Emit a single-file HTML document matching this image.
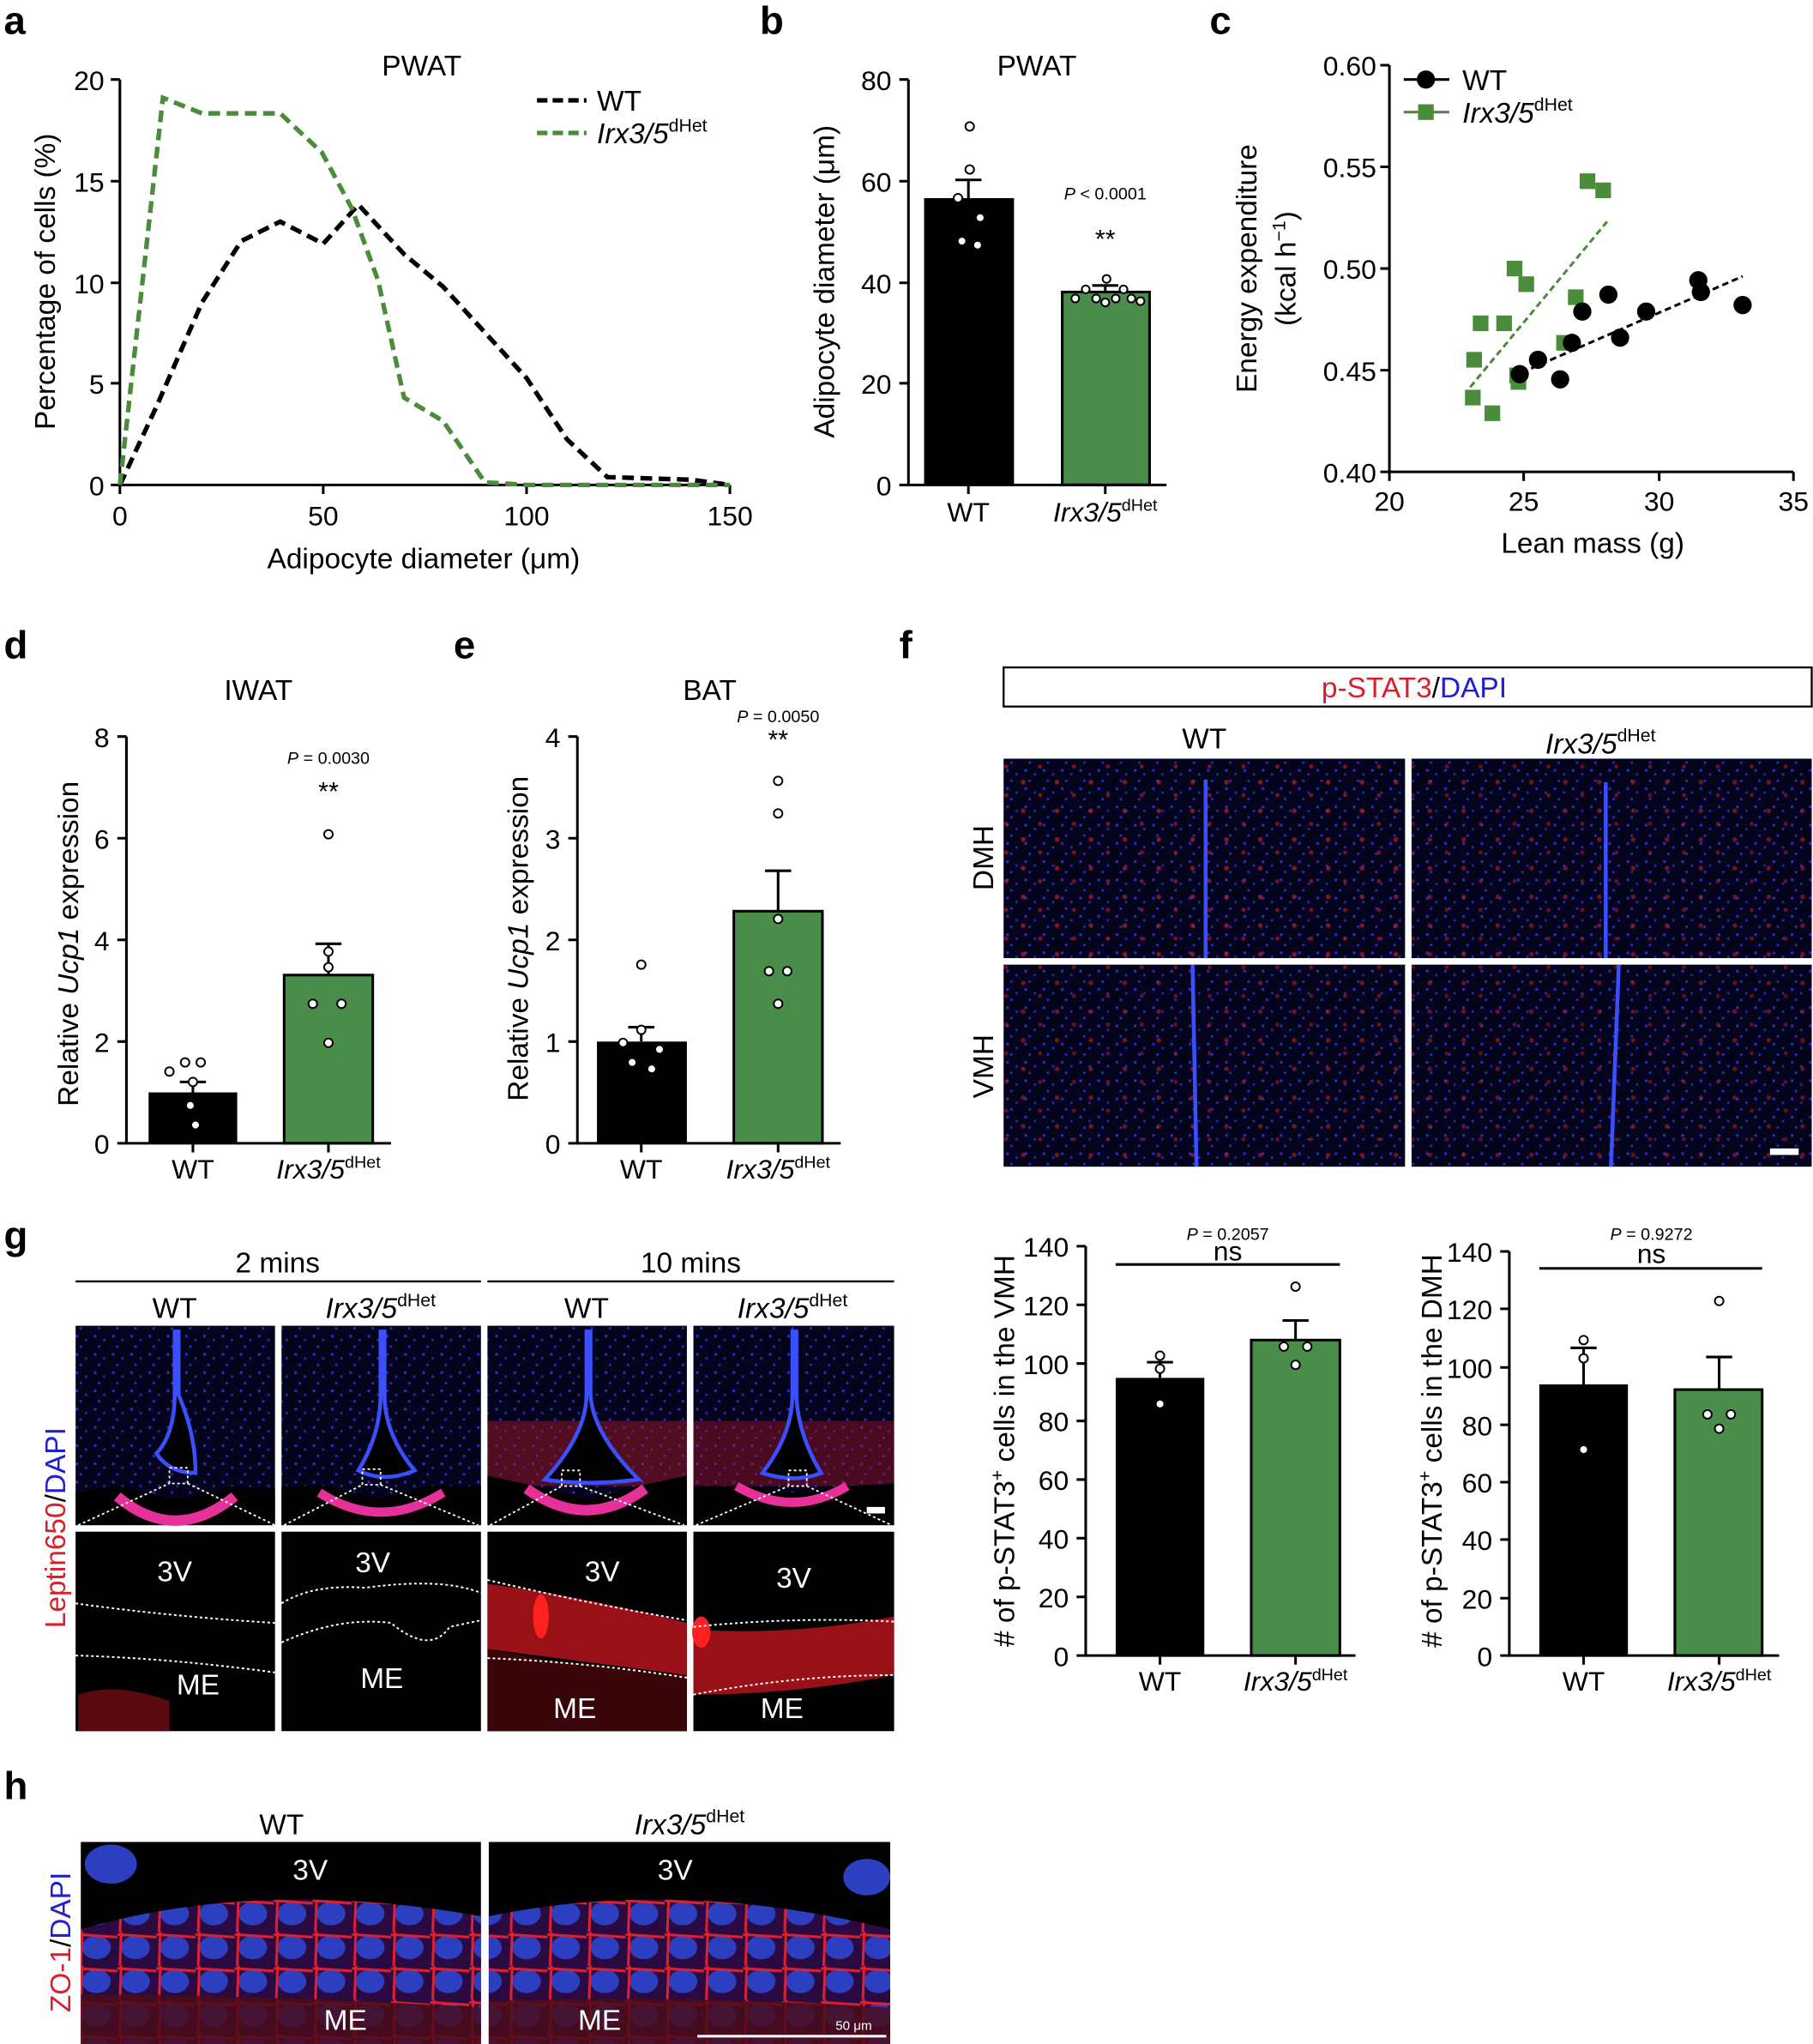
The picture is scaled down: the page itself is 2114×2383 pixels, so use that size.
<!DOCTYPE html>
<html><head><meta charset="utf-8"><style>
html,body{margin:0;padding:0;background:#fff}
svg{display:block}
text{font-family:"Liberation Sans",sans-serif;fill:#000}
.t{font-size:21px}
.lab{font-size:22px}
.L{font-size:30px;font-weight:bold}
</style></head><body>
<svg width="2114" height="2383" viewBox="0 0 1391 1568" xmlns="http://www.w3.org/2000/svg">
<defs>
<pattern id="mic" width="14" height="14" patternUnits="userSpaceOnUse">
<rect width="14" height="14" fill="#04041c"/>
<circle cx="3" cy="3" r="1.1" fill="#2a2ccc"/><circle cx="10" cy="6" r="1" fill="#2328b0"/>
<circle cx="6" cy="11" r="1" fill="#2a2ccc"/>
</pattern>
<pattern id="red" width="26" height="22" patternUnits="userSpaceOnUse">
<circle cx="5" cy="6" r="1.8" fill="#e0202e"/><circle cx="18" cy="16" r="1.6" fill="#d01828"/>
</pattern>
<pattern id="zo" width="30" height="26" patternUnits="userSpaceOnUse">
<rect width="30" height="26" fill="#2a0a40"/>
<ellipse cx="14" cy="12" rx="11" ry="9" fill="#2b3fc0"/>
<path d="M0 2 L30 4 M3 0 L2 26" stroke="#e02030" stroke-width="2"/>
</pattern>
</defs>
<rect width="1391" height="1568" fill="#fff"/>

<!-- ===== a ===== -->
<text class="L" x="3" y="26">a</text>
<text class="lab" x="293" y="58">PWAT</text>
<g stroke="#000" stroke-width="2" fill="none">
<path d="M92 61 V372 H560"/>
<path d="M85 61H92M85 139H92M85 217H92M85 294H92M85 372H92"/>
<path d="M92 372v7M248 372v7M404 372v7M560 372v7"/>
</g>
<g class="t" text-anchor="end"><text x="80" y="69">20</text><text x="80" y="147">15</text><text x="80" y="225">10</text><text x="80" y="302">5</text><text x="80" y="380">0</text></g>
<g class="t" text-anchor="middle"><text x="92" y="403">0</text><text x="248" y="403">50</text><text x="404" y="403">100</text><text x="560" y="403">150</text></g>
<text class="lab" x="325" y="436" text-anchor="middle">Adipocyte diameter (μm)</text>
<text class="lab" transform="translate(42,216) rotate(-90)" text-anchor="middle">Percentage of cells (%)</text>
<polyline fill="none" stroke="#000" stroke-width="3.5" stroke-dasharray="9,5" points="92,372 120,312 155,232 185,185 215,170 248,187 275,157 310,195 340,220 372,255 404,290 435,337 466,366 530,368 560,372"/>
<polyline fill="none" stroke="#4a8c3c" stroke-width="3.5" stroke-dasharray="9,5" points="92,372 125,75 155,87 215,87 247,117 270,160 290,215 310,305 340,323 372,370 404,372 560,372"/>
<line x1="412" y1="77" x2="450" y2="77" stroke="#000" stroke-width="3.5" stroke-dasharray="8,4"/>
<line x1="412" y1="102" x2="450" y2="102" stroke="#4a8c3c" stroke-width="3.5" stroke-dasharray="8,4"/>
<text class="lab" x="458" y="85">WT</text>
<text class="lab" x="458" y="110"><tspan font-style="italic">Irx3/5</tspan><tspan font-size="14" dy="-9">dHet</tspan></text>

<!-- ===== b ===== -->
<text class="L" x="583" y="26">b</text>
<text class="lab" x="765" y="58">PWAT</text>
<rect x="709" y="152" width="69" height="220" fill="#000"/>
<rect x="815" y="224" width="67" height="148" fill="#4a8c4a" stroke="#000" stroke-width="2"/>
<g stroke="#000" stroke-width="2" fill="none">
<path d="M743 152V138M733 138H753M848 224V219M838 219H858"/>
<path d="M697 61V372H895"/>
<path d="M690 61H697M690 139H697M690 217H697M690 294H697M690 372H697M743 372v7M848 372v7"/>
</g>
<g fill="#fff" stroke="#000" stroke-width="1.3">
<circle cx="744" cy="97" r="3.3"/><circle cx="744" cy="130" r="3.3"/><circle cx="735" cy="152" r="3.3"/><circle cx="752" cy="167" r="3.3"/><circle cx="738" cy="185" r="3.3"/><circle cx="750" cy="188" r="3.3"/>
<circle cx="825" cy="229" r="3"/><circle cx="833" cy="222" r="3"/><circle cx="841" cy="229" r="3"/><circle cx="849" cy="214" r="3"/><circle cx="856" cy="229" r="3"/><circle cx="862" cy="222" r="3"/><circle cx="868" cy="229" r="3"/><circle cx="875" cy="231" r="3"/><circle cx="848" cy="232" r="3"/>
</g>
<g class="t" text-anchor="end"><text x="684" y="69">80</text><text x="684" y="147">60</text><text x="684" y="225">40</text><text x="684" y="302">20</text><text x="684" y="380">0</text></g>
<text class="t" x="743" y="400" text-anchor="middle">WT</text>
<text class="t" x="848" y="400" text-anchor="middle"><tspan font-style="italic">Irx3/5</tspan><tspan font-size="13" dy="-8">dHet</tspan></text>
<text x="848" y="153" font-size="13" text-anchor="middle"><tspan font-style="italic">P</tspan> &lt; 0.0001</text>
<text x="848" y="190" font-size="20" text-anchor="middle">**</text>
<text class="lab" transform="translate(640,216) rotate(-90)" text-anchor="middle">Adipocyte diameter (μm)</text>

<!-- ===== c ===== -->
<text class="L" x="928" y="26">c</text>
<g stroke="#000" stroke-width="2" fill="none">
<path d="M1066 50V362H1376"/>
<path d="M1059 50H1066M1059 128H1066M1059 206H1066M1059 284H1066M1059 362H1066"/>
<path d="M1066 362v7M1169 362v7M1273 362v7M1376 362v7"/>
</g>
<g class="t" text-anchor="end"><text x="1056" y="58">0.60</text><text x="1056" y="136">0.55</text><text x="1056" y="214">0.50</text><text x="1056" y="292">0.45</text><text x="1056" y="370">0.40</text></g>
<g class="t" text-anchor="middle"><text x="1066" y="392">20</text><text x="1169" y="392">25</text><text x="1273" y="392">30</text><text x="1376" y="392">35</text></g>
<text class="lab" x="1222" y="424" text-anchor="middle">Lean mass (g)</text>
<text class="lab" transform="translate(964,206) rotate(-90)" text-anchor="middle">Energy expenditure</text>
<text class="lab" transform="translate(994,206) rotate(-90)" text-anchor="middle">(kcal h<tspan font-size="14" dy="-8">−1</tspan><tspan dy="8">)</tspan></text>
<line x1="1128" y1="297" x2="1233" y2="170" stroke="#4a8c3c" stroke-width="2" stroke-dasharray="5,3"/>
<line x1="1160" y1="289" x2="1337" y2="212" stroke="#000" stroke-width="2" stroke-dasharray="5,3"/>
<g fill="#4a8c3c">
<rect x="1124" y="299" width="12" height="12"/><rect x="1139" y="311" width="12" height="12"/><rect x="1125" y="270" width="12" height="12"/><rect x="1130" y="242" width="12" height="12"/><rect x="1148" y="242" width="12" height="12"/><rect x="1156" y="200" width="12" height="12"/><rect x="1165" y="212" width="12" height="12"/><rect x="1158" y="282" width="12" height="12"/><rect x="1159" y="287" width="12" height="12"/><rect x="1203" y="222" width="12" height="12"/><rect x="1212" y="133" width="12" height="12"/><rect x="1224" y="140" width="12" height="12"/><rect x="1194" y="257" width="12" height="12"/>
</g>
<g fill="#000">
<circle cx="1166" cy="287" r="7"/><circle cx="1180" cy="276" r="7"/><circle cx="1197" cy="291" r="7"/><circle cx="1206" cy="263" r="7"/><circle cx="1214" cy="239" r="7"/><circle cx="1234" cy="226" r="7"/><circle cx="1243" cy="259" r="7"/><circle cx="1263" cy="239" r="7"/><circle cx="1303" cy="215" r="7"/><circle cx="1305" cy="224" r="7"/><circle cx="1337" cy="234" r="7"/>
</g>
<line x1="1077" y1="61" x2="1112" y2="61" stroke="#000" stroke-width="2"/><circle cx="1094" cy="61" r="7"/>
<line x1="1077" y1="86" x2="1112" y2="86" stroke="#4a8c3c" stroke-width="2"/><rect x="1088" y="80" width="12" height="12" fill="#4a8c3c"/>
<text class="lab" x="1122" y="69">WT</text>
<text class="lab" x="1122" y="94"><tspan font-style="italic">Irx3/5</tspan><tspan font-size="14" dy="-9">dHet</tspan></text>

<!-- ===== d ===== -->
<text class="L" x="3" y="505">d</text>
<text class="lab" x="172" y="537">IWAT</text>
<rect x="114" y="838" width="68" height="39" fill="#000"/>
<rect x="218" y="748" width="68" height="129" fill="#4a8c4a" stroke="#000" stroke-width="2"/>
<g stroke="#000" stroke-width="2" fill="none">
<path d="M148 838V830M138 830H158M252 748V724M242 724H262"/>
<path d="M97 565V877H300"/>
<path d="M90 565H97M90 643H97M90 721H97M90 799H97M90 877H97M148 877v7M252 877v7"/>
</g>
<g fill="#fff" stroke="#000" stroke-width="1.3">
<circle cx="142" cy="815" r="3.3"/><circle cx="154" cy="815" r="3.3"/><circle cx="130" cy="822" r="3.3"/><circle cx="148" cy="830" r="3.3"/><circle cx="146" cy="848" r="3.3"/><circle cx="150" cy="863" r="3.3"/>
<circle cx="252" cy="640" r="3.3"/><circle cx="252" cy="730" r="3.3"/><circle cx="252" cy="742" r="3.3"/><circle cx="240" cy="770" r="3.3"/><circle cx="262" cy="770" r="3.3"/><circle cx="252" cy="800" r="3.3"/>
</g>
<g class="t" text-anchor="end"><text x="84" y="573">8</text><text x="84" y="651">6</text><text x="84" y="729">4</text><text x="84" y="807">2</text><text x="84" y="885">0</text></g>
<text class="t" x="148" y="904" text-anchor="middle">WT</text>
<text class="t" x="252" y="904" text-anchor="middle"><tspan font-style="italic">Irx3/5</tspan><tspan font-size="13" dy="-8">dHet</tspan></text>
<text x="252" y="586" font-size="13" text-anchor="middle"><tspan font-style="italic">P</tspan> = 0.0030</text>
<text x="252" y="614" font-size="20" text-anchor="middle">**</text>
<text class="lab" transform="translate(60,724) rotate(-90)" text-anchor="middle">Relative <tspan font-style="italic">Ucp1</tspan> expression</text>

<!-- ===== e ===== -->
<text class="L" x="348" y="505">e</text>
<text class="lab" x="524" y="537">BAT</text>
<rect x="458" y="799" width="69" height="78" fill="#000"/>
<rect x="563" y="699" width="68" height="178" fill="#4a8c4a" stroke="#000" stroke-width="2"/>
<g stroke="#000" stroke-width="2" fill="none">
<path d="M492 799V788M482 788H502M597 699V668M587 668H607"/>
<path d="M443 565V877H645"/>
<path d="M436 565H443M436 643H443M436 721H443M436 799H443M436 877H443M492 877v7M597 877v7"/>
</g>
<g fill="#fff" stroke="#000" stroke-width="1.3">
<circle cx="492" cy="740" r="3.3"/><circle cx="492" cy="790" r="3.3"/><circle cx="478" cy="800" r="3.3"/><circle cx="506" cy="805" r="3.3"/><circle cx="485" cy="815" r="3.3"/><circle cx="500" cy="820" r="3.3"/>
<circle cx="597" cy="599" r="3.3"/><circle cx="597" cy="624" r="3.3"/><circle cx="597" cy="705" r="3.3"/><circle cx="590" cy="745" r="3.3"/><circle cx="604" cy="745" r="3.3"/><circle cx="597" cy="770" r="3.3"/>
</g>
<g class="t" text-anchor="end"><text x="430" y="573">4</text><text x="430" y="651">3</text><text x="430" y="729">2</text><text x="430" y="807">1</text><text x="430" y="885">0</text></g>
<text class="t" x="492" y="904" text-anchor="middle">WT</text>
<text class="t" x="597" y="904" text-anchor="middle"><tspan font-style="italic">Irx3/5</tspan><tspan font-size="13" dy="-8">dHet</tspan></text>
<text x="597" y="554" font-size="13" text-anchor="middle"><tspan font-style="italic">P</tspan> = 0.0050</text>
<text x="597" y="574" font-size="20" text-anchor="middle">**</text>
<text class="lab" transform="translate(405,720) rotate(-90)" text-anchor="middle">Relative <tspan font-style="italic">Ucp1</tspan> expression</text>

<!-- ===== f ===== -->
<text class="L" x="690" y="505">f</text>
<rect x="770" y="512" width="620" height="30" fill="none" stroke="#000" stroke-width="1.5"/>
<text class="lab" x="1085" y="535" text-anchor="middle"><tspan style="fill:#d8202a">p-STAT3</tspan>/<tspan style="fill:#2020d0">DAPI</tspan></text>
<text class="lab" x="924" y="574" text-anchor="middle">WT</text>
<text class="lab" x="1228" y="578" text-anchor="middle"><tspan font-style="italic">Irx3/5</tspan><tspan font-size="14" dy="-9">dHet</tspan></text>
<text class="lab" transform="translate(762,658) rotate(-90)" text-anchor="middle">DMH</text>
<text class="lab" transform="translate(762,818) rotate(-90)" text-anchor="middle">VMH</text>
<g>
<rect x="770" y="582" width="308" height="153" fill="url(#mic)"/><rect x="770" y="582" width="308" height="153" fill="url(#red)" opacity=".6"/>
<rect x="1083" y="582" width="307" height="153" fill="url(#mic)"/><rect x="1083" y="582" width="307" height="153" fill="url(#red)" opacity=".5"/>
<rect x="770" y="740" width="308" height="155" fill="url(#mic)"/><rect x="770" y="740" width="308" height="155" fill="url(#red)" opacity=".5"/>
<rect x="1083" y="740" width="307" height="155" fill="url(#mic)"/><rect x="1083" y="740" width="307" height="155" fill="url(#red)" opacity=".45"/>
<path d="M925 598V735M1232 600V735M915 740L918 895M1242 740L1236 895" stroke="#3a50ff" stroke-width="3"/>
<rect x="1358" y="881" width="22" height="5" fill="#fff"/>
</g>

<!-- f bars VMH -->
<rect x="856" y="1057" width="68" height="213" fill="#000"/>
<rect x="960" y="1028" width="68" height="242" fill="#4a8c4a" stroke="#000" stroke-width="2"/>
<g stroke="#000" stroke-width="2" fill="none">
<path d="M890 1057V1045M880 1045H900M994 1028V1013M984 1013H1004"/>
<path d="M833 956V1270H1040"/>
<path d="M826 956H833M826 1001H833M826 1046H833M826 1090H833M826 1135H833M826 1180H833M826 1225H833M826 1270H833M890 1270v7M994 1270v7"/>
<path d="M856 970H1028"/>
</g>
<g fill="#fff" stroke="#000" stroke-width="1.3"><circle cx="890" cy="1040" r="3.3"/><circle cx="890" cy="1050" r="3.3"/><circle cx="890" cy="1077" r="3.3"/><circle cx="994" cy="987" r="3.3"/><circle cx="985" cy="1033" r="3.3"/><circle cx="1003" cy="1033" r="3.3"/><circle cx="994" cy="1047" r="3.3"/></g>
<g class="t" text-anchor="end"><text x="820" y="964">140</text><text x="820" y="1009">120</text><text x="820" y="1054">100</text><text x="820" y="1098">80</text><text x="820" y="1143">60</text><text x="820" y="1188">40</text><text x="820" y="1233">20</text><text x="820" y="1278">0</text></g>
<text x="942" y="951" font-size="13" text-anchor="middle"><tspan font-style="italic">P</tspan> = 0.2057</text>
<text class="t" x="942" y="967" text-anchor="middle">ns</text>
<text class="t" x="890" y="1297" text-anchor="middle">WT</text>
<text class="t" x="994" y="1297" text-anchor="middle"><tspan font-style="italic">Irx3/5</tspan><tspan font-size="13" dy="-8">dHet</tspan></text>
<text class="lab" transform="translate(778,1113) rotate(-90)" text-anchor="middle"># of p-STAT3<tspan font-size="14" dy="-8">+</tspan><tspan dy="8"> cells in the VMH</tspan></text>

<!-- f bars DMH -->
<rect x="1181" y="1062" width="68" height="208" fill="#000"/>
<rect x="1285" y="1066" width="67" height="204" fill="#4a8c4a" stroke="#000" stroke-width="2"/>
<g stroke="#000" stroke-width="2" fill="none">
<path d="M1215 1062V1034M1205 1034H1225M1319 1066V1041M1309 1041H1329"/>
<path d="M1158 960V1270H1365"/>
<path d="M1151 960H1158M1151 1004H1158M1151 1049H1158M1151 1093H1158M1151 1137H1158M1151 1181H1158M1151 1226H1158M1151 1270H1158M1215 1270v7M1319 1270v7"/>
<path d="M1181 973H1352"/>
</g>
<g fill="#fff" stroke="#000" stroke-width="1.3"><circle cx="1215" cy="1028" r="3.3"/><circle cx="1215" cy="1042" r="3.3"/><circle cx="1215" cy="1112" r="3.3"/><circle cx="1319" cy="998" r="3.3"/><circle cx="1310" cy="1085" r="3.3"/><circle cx="1328" cy="1085" r="3.3"/><circle cx="1319" cy="1096" r="3.3"/></g>
<g class="t" text-anchor="end"><text x="1145" y="968">140</text><text x="1145" y="1012">120</text><text x="1145" y="1057">100</text><text x="1145" y="1101">80</text><text x="1145" y="1145">60</text><text x="1145" y="1189">40</text><text x="1145" y="1234">20</text><text x="1145" y="1278">0</text></g>
<text x="1267" y="951" font-size="13" text-anchor="middle"><tspan font-style="italic">P</tspan> = 0.9272</text>
<text class="t" x="1267" y="969" text-anchor="middle">ns</text>
<text class="t" x="1215" y="1297" text-anchor="middle">WT</text>
<text class="t" x="1319" y="1297" text-anchor="middle"><tspan font-style="italic">Irx3/5</tspan><tspan font-size="13" dy="-8">dHet</tspan></text>
<text class="lab" transform="translate(1106,1113) rotate(-90)" text-anchor="middle"># of p-STAT3<tspan font-size="14" dy="-8">+</tspan><tspan dy="8"> cells in the DMH</tspan></text>

<!-- ===== g ===== -->
<text class="L" x="3" y="958">g</text>
<text class="lab" x="213" y="976" text-anchor="middle">2 mins</text>
<text class="lab" x="530" y="976" text-anchor="middle">10 mins</text>
<path d="M58 983H369M374 983H686" stroke="#000" stroke-width="1.5"/>
<text class="lab" x="134" y="1011" text-anchor="middle">WT</text>
<text class="lab" x="292" y="1011" text-anchor="middle"><tspan font-style="italic">Irx3/5</tspan><tspan font-size="14" dy="-9">dHet</tspan></text>
<text class="lab" x="450" y="1011" text-anchor="middle">WT</text>
<text class="lab" x="608" y="1011" text-anchor="middle"><tspan font-style="italic">Irx3/5</tspan><tspan font-size="14" dy="-9">dHet</tspan></text>
<text class="lab" transform="translate(50,1172) rotate(-90)" text-anchor="middle"><tspan style="fill:#d8202a">Leptin650</tspan>/<tspan style="fill:#2020d0">DAPI</tspan></text>
<g>
<rect x="58" y="1017" width="153" height="153" fill="url(#mic)"/>
<rect x="216" y="1017" width="153" height="153" fill="url(#mic)"/>
<rect x="374" y="1017" width="153" height="153" fill="url(#mic)"/>
<rect x="532" y="1017" width="154" height="153" fill="url(#mic)"/>
<rect x="374" y="1090" width="153" height="50" fill="#a01525" opacity=".5"/>
<rect x="532" y="1090" width="154" height="50" fill="#a01525" opacity=".45"/>
<path d="M58 1145L90 1140L134 1150L180 1140L211 1142V1170H58Z" fill="#000"/>
<path d="M216 1140L250 1140L292 1150L330 1140L369 1140V1170H216Z" fill="#000"/>
<path d="M374 1132L410 1140L450 1150L490 1140L527 1132V1170H374Z" fill="#000"/>
<path d="M532 1140L570 1140L608 1145L650 1140L686 1138V1170H532Z" fill="#000"/>
<path d="M90 1148Q134 1185 180 1148" stroke="#e8309a" stroke-width="8" fill="none"/>
<path d="M245 1145Q292 1175 340 1145" stroke="#e8309a" stroke-width="7" fill="none"/>
<path d="M404 1142Q450 1175 495 1142" stroke="#e8309a" stroke-width="8" fill="none"/>
<path d="M565 1140Q608 1165 650 1140" stroke="#e8309a" stroke-width="7" fill="none"/>
<path d="M134 1020V1070Q134 1100 120 1115Q130 1130 150 1130Q150 1100 137 1070V1020" stroke="#3a50ff" stroke-width="3" fill="#000"/>
<path d="M292 1020V1070Q292 1100 275 1128Q295 1138 318 1128Q295 1100 295 1070V1020" stroke="#3a50ff" stroke-width="3" fill="#000"/>
<path d="M450 1020V1070Q450 1100 418 1135Q450 1140 490 1135Q455 1100 453 1070V1020" stroke="#3a50ff" stroke-width="3" fill="#000"/>
<path d="M608 1020V1070Q608 1100 585 1130Q610 1138 630 1130Q612 1100 611 1070V1020" stroke="#3a50ff" stroke-width="3" fill="#000"/>
<g stroke="#fff" stroke-width="1.2" stroke-dasharray="2,2" fill="none">
<rect x="130" y="1126" width="14" height="12"/><rect x="278" y="1127" width="14" height="12"/><rect x="431" y="1128" width="14" height="12"/><rect x="605" y="1128" width="14" height="12"/>
<path d="M60 1170L130 1138M144 1138L211 1170M218 1170L278 1139M292 1139L367 1170M376 1170L431 1140M445 1140L525 1170M534 1170L605 1140M619 1140L684 1170"/>
</g>
<rect x="665" y="1156" width="14" height="5" fill="#fff"/>
<rect x="58" y="1175" width="153" height="153" fill="#000"/>
<rect x="216" y="1175" width="153" height="153" fill="#000"/>
<rect x="374" y="1175" width="153" height="153" fill="#000"/>
<rect x="532" y="1175" width="154" height="153" fill="#000"/>
<path d="M60 1328V1300Q90 1290 130 1305V1328Z" fill="#5a0a10"/>
<path d="M374 1215Q450 1225 527 1245V1285Q450 1275 374 1265Z" fill="#9a1018"/>
<path d="M374 1265Q450 1280 527 1285V1328H374Z" fill="#3a0508"/>
<path d="M532 1250Q610 1255 686 1240V1285Q610 1300 532 1300Z" fill="#9a1018"/>
<ellipse cx="415" cy="1240" rx="6" ry="17" fill="#ff2020"/><ellipse cx="538" cy="1252" rx="7" ry="12" fill="#ff2020"/>
<g stroke="#fff" stroke-width="1.3" stroke-dasharray="2,2" fill="none">
<path d="M58 1230Q130 1240 211 1245M58 1270Q130 1272 211 1283"/>
<path d="M216 1230Q240 1215 280 1218Q340 1210 369 1222M216 1260Q260 1240 300 1245Q330 1270 345 1248L369 1243"/>
<path d="M374 1212Q450 1230 527 1243M374 1272Q450 1275 527 1287"/>
<path d="M532 1248Q610 1240 686 1244M532 1300Q610 1285 686 1285"/>
</g>
<g class="lab" text-anchor="middle">
<text x="134" y="1213" style="fill:#fff">3V</text><text x="286" y="1206" style="fill:#fff">3V</text><text x="462" y="1213" style="fill:#fff">3V</text><text x="609" y="1218" style="fill:#fff">3V</text>
<text x="152" y="1300" style="fill:#fff">ME</text><text x="293" y="1295" style="fill:#fff">ME</text><text x="441" y="1318" style="fill:#fff">ME</text><text x="600" y="1318" style="fill:#fff">ME</text>
</g>
</g>

<!-- ===== h ===== -->
<text class="L" x="3" y="1380">h</text>
<text class="lab" x="216" y="1407" text-anchor="middle">WT</text>
<text class="lab" x="529" y="1407" text-anchor="middle"><tspan font-style="italic">Irx3/5</tspan><tspan font-size="14" dy="-9">dHet</tspan></text>
<text class="lab" transform="translate(54,1490) rotate(-90)" text-anchor="middle"><tspan style="fill:#d8202a">ZO-1</tspan>/<tspan style="fill:#2020d0">DAPI</tspan></text>
<rect x="62" y="1413" width="307" height="155" fill="#000"/>
<rect x="375" y="1413" width="308" height="155" fill="#000"/>
<path d="M62 1480Q200 1440 369 1470V1568H62Z" fill="url(#zo)"/>
<path d="M375 1470Q520 1440 683 1480V1568H375Z" fill="url(#zo)"/>
<path d="M62 1530Q200 1530 369 1540V1568H62Z" fill="#4a0c1a" opacity=".85"/>
<path d="M375 1535Q520 1530 683 1540V1568H375Z" fill="#4a0c1a" opacity=".85"/>
<ellipse cx="85" cy="1430" rx="20" ry="15" fill="#2b3fc0"/><ellipse cx="665" cy="1440" rx="18" ry="14" fill="#2b3fc0"/>
<text class="lab" x="238" y="1442" text-anchor="middle" style="fill:#fff">3V</text>
<text class="lab" x="518" y="1442" text-anchor="middle" style="fill:#fff">3V</text>
<text class="lab" x="265" y="1557" text-anchor="middle" style="fill:#fff">ME</text>
<text class="lab" x="460" y="1557" text-anchor="middle" style="fill:#fff">ME</text>
<rect x="535" y="1561" width="145" height="2" fill="#fff"/>
<text x="655" y="1557" font-size="10" text-anchor="middle" style="fill:#fff">50 μm</text>
</svg>
</body></html>
